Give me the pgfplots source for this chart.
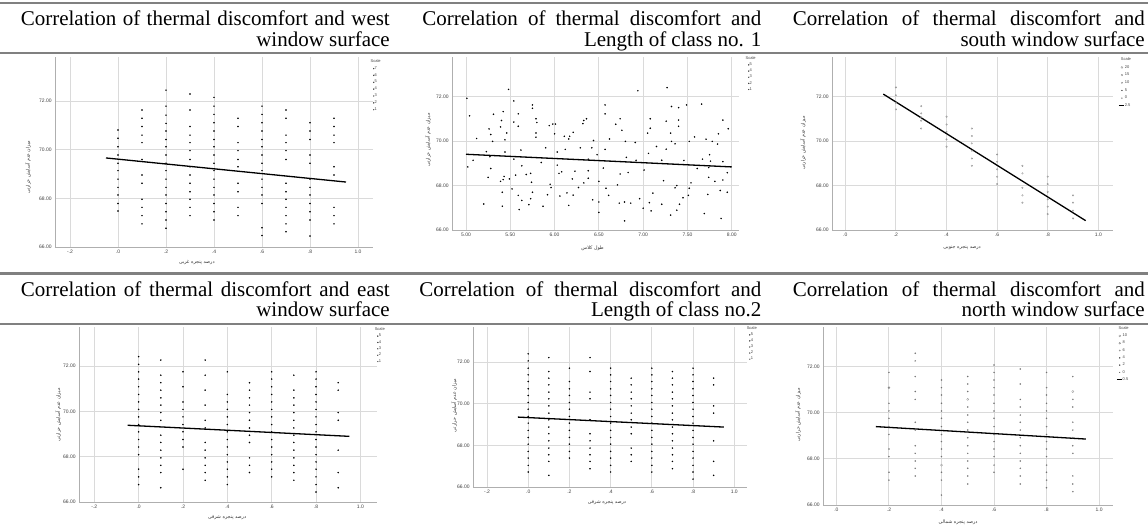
\documentclass[border=0pt]{standalone}
\usepackage{fontspec}
\setmainfont{Liberation Serif}
\newfontfamily\sans{Liberation Sans}
\newfontfamily\arabicfont[Script=Arabic]{DejaVu Sans}
\TeXXeTstate=1
\usepackage{pgfplots}
\pgfplotsset{compat=1.18}

\definecolor{rulec}{RGB}{128,128,128}
\definecolor{gridc}{RGB}{218,218,218}
\definecolor{axisc}{RGB}{175,175,175}

\newcommand{\ttl}{\fontsize{21}{21}\selectfont}

\pgfplotsset{
  spss/.style={
    scale only axis, axis lines=left, anchor=south west,
    axis line style={draw=axisc, line width=0.9pt, -},
    grid=major, major grid style={draw=gridc, line width=0.9pt},
    tick style={draw=none},
    ticklabel style={font=\sans\fontsize{5}{5}\selectfont, text=black!75, inner sep=1pt},
    ymin=66, ytick={66,68,70,72}, yticklabels={66.00,68.00,70.00,72.00},
    label style={font=\fontsize{4.8}{5}\selectfont, text=black!80, anchor=center},
    ylabel={\arabicfont\beginR میزان عدم آسایش حرارتی\endR},
    legend style={draw=none, fill=none, anchor=north west,
      font=\sans\fontsize{4}{4}\selectfont, text=black!75,
      inner sep=0pt, nodes={inner sep=0.3pt}},
    legend cell align=left,
  },
  frac/.style={xtick={-0.2,0,0.2,0.4,0.6,0.8,1.0}, xticklabels={-.2,.0,.2,.4,.6,.8,1.0}},
  dotimg/.style={legend image code/.code={\fill[black!75] (1.5pt,0) circle (#1);}},
  ringimg/.style={legend image code/.code={\draw[black!50, line width=0.3pt] (1.5pt,0) circle (#1);}},
  lineimg/.style={legend image code/.code={\draw[black, line width=1.3pt] (-1.5pt,0) -- (3.5pt,0);}},
  dots/.style={only marks, mark=*, mark size=0.55pt, mark options={draw=none, fill=black!80}, forget plot},
  rings/.style={only marks, mark=o, mark size=0.8pt, mark options={draw=black!45, line width=0.3pt}, forget plot},
  fit/.style={black, line width=1.3pt, no marks, forget plot},
}

\begin{document}
\begin{tikzpicture}
\useasboundingbox (0,0) rectangle (1148pt,528pt);

% west
\begin{axis}[spss, frac, at={(55pt,281pt)}, width=318pt, height=190pt,
  xmin=-0.2625, xmax=1.0625, ymax=73.81,
  xlabel={\arabicfont\beginR درصد پنجره غربی\endR},
  xlabel style={at={(axis description cs:0.446,-0.084)}},
  ylabel style={at={(axis description cs:-0.085,0.42)}},
  legend style={at={(axis description cs:0.997,0.99)}, row sep=2pt}]
\addplot[dots] coordinates {
(0,70.81)(0,70.47)(0,70.12)(0,69.78)(0,69.44)(0,69.14)(0,68.79)(0,68.45)(0,68.14)(0,67.79)(0,67.48)
(0.1,71.63)(0.1,71.29)(0.1,70.95)(0.1,70.60)(0.1,70.29)(0.1,69.60)(0.1,68.96)(0.1,68.62)(0.1,67.96)(0.1,67.63)(0.1,67.29)(0.1,66.95)
(0.2,72.45)(0.2,71.79)(0.2,71.42)(0.2,71.08)(0.2,70.77)(0.2,70.42)(0.2,70.12)(0.2,69.78)(0.2,69.44)(0.2,69.14)(0.2,68.79)(0.2,68.45)(0.2,68.14)(0.2,67.79)(0.2,67.45)(0.2,67.11)(0.2,66.77)
(0.3,72.29)(0.3,71.63)(0.3,70.95)(0.3,70.60)(0.3,70.29)(0.3,69.96)(0.3,69.60)(0.3,69.30)(0.3,68.96)(0.3,68.62)(0.3,68.27)(0.3,67.96)(0.3,67.63)(0.3,67.29)
(0.4,72.15)(0.4,71.79)(0.4,71.45)(0.4,71.11)(0.4,70.77)(0.4,70.42)(0.4,70.12)(0.4,69.78)(0.4,69.44)(0.4,69.14)(0.4,68.79)(0.4,68.45)(0.4,68.14)(0.4,67.79)(0.4,67.45)(0.4,67.11)
(0.5,71.29)(0.5,70.95)(0.5,70.29)(0.5,69.96)(0.5,69.60)(0.5,69.30)(0.5,68.62)(0.5,68.27)(0.5,67.63)(0.5,67.29)
(0.6,71.79)(0.6,71.45)(0.6,71.11)(0.6,70.77)(0.6,70.42)(0.6,70.12)(0.6,69.78)(0.6,69.44)(0.6,69.14)(0.6,68.79)(0.6,68.45)(0.6,68.14)(0.6,67.79)(0.6,66.79)(0.6,66.47)
(0.7,71.63)(0.7,71.29)(0.7,70.60)(0.7,70.29)(0.7,69.96)(0.7,69.60)(0.7,68.62)(0.7,68.27)(0.7,67.96)(0.7,67.63)(0.7,67.29)(0.7,66.95)(0.7,66.63)
(0.8,71.11)(0.8,70.77)(0.8,70.42)(0.8,69.78)(0.8,69.44)(0.8,68.79)(0.8,68.45)(0.8,68.14)(0.8,67.79)(0.8,67.45)(0.8,67.11)(0.8,66.45)
(0.9,71.29)(0.9,70.95)(0.9,70.60)(0.9,70.29)(0.9,69.30)(0.9,68.96)(0.9,67.63)(0.9,67.29)(0.9,66.95)};
\addplot[fit] coordinates {(-0.05,69.66)(0.95,68.67)};
\addlegendimage{empty legend}\addlegendentry{\hspace*{-4pt}Scale}
\addlegendimage{dotimg=0.45pt}\addlegendentry{7}
\addlegendimage{dotimg=0.45pt}\addlegendentry{6}
\addlegendimage{dotimg=0.45pt}\addlegendentry{5}
\addlegendimage{dotimg=0.45pt}\addlegendentry{4}
\addlegendimage{dotimg=0.4pt}\addlegendentry{3}
\addlegendimage{dotimg=0.4pt}\addlegendentry{2}
\addlegendimage{dotimg=0.35pt}\addlegendentry{1}
\end{axis}

% length of class no. 1
\begin{axis}[spss, at={(452pt,298pt)}, width=287pt, height=173pt,
  xmin=4.842, xmax=8.082, ymax=73.79,
  xtick={5,5.5,6,6.5,7,7.5,8}, xticklabels={5.00,5.50,6.00,6.50,7.00,7.50,8.00},
  xlabel={\arabicfont\beginR طول کلاس\endR},
  xlabel style={at={(axis description cs:0.49,-0.104)}},
  ylabel style={at={(axis description cs:-0.084,0.52)}},
  legend style={at={(axis description cs:1.028,1.006)}, row sep=1.3pt}]
\addplot[dots] coordinates {
(5.01,71.93)(5.48,72.33)(5.54,71.81)(5.04,71.14)(5.31,71.21)(5.42,71.33)(5.40,70.93)(5.59,71.23)(5.75,71.63)(5.75,71.48)
(5.26,70.55)(5.28,70.30)(5.39,70.64)(5.46,70.37)(5.54,70.86)(5.59,70.67)(5.79,71.01)(5.80,70.84)(5.12,70.12)(5.30,69.99)
(5.44,70.06)(5.79,70.37)(5.79,70.18)(5.94,70.70)(5.98,70.77)(6.01,70.77)(6.00,70.33)(6.11,70.22)(6.17,70.22)(6.16,70.10)
(6.21,70.40)(6.32,70.79)(6.33,70.93)(6.36,71.01)(6.44,70.03)(5.23,69.53)(5.27,69.30)(5.44,69.51)(5.62,69.60)(5.08,69.14)
(5.02,68.84)(5.54,69.19)(5.90,69.70)(6.03,69.51)(6.12,69.63)(6.29,69.70)(6.42,69.70)(6.38,69.19)(5.85,69.04)(5.63,68.89)
(6.03,68.92)(5.28,68.77)(5.25,68.37)(5.43,68.41)(5.42,68.27)(5.49,68.30)(5.39,68.19)(5.56,68.47)(5.68,68.50)(5.73,68.55)
(5.74,68.15)(6.08,68.62)(6.05,68.55)(6.23,68.65)(6.38,68.67)(6.20,68.30)(6.38,68.33)(6.33,68.12)(6.27,67.91)(5.95,68.06)
(5.96,67.91)(5.52,67.85)(5.41,67.70)(5.75,67.70)(5.59,67.56)(5.63,67.33)(5.73,67.41)(5.92,67.59)(6.06,67.53)(6.14,67.67)
(6.21,67.57)(6.43,67.36)(5.20,67.17)(5.41,67.07)(5.60,66.92)(5.71,67.14)(5.87,67.07)(6.16,67.11)
(6.94,72.27)(7.27,72.41)(6.57,71.63)(6.57,71.23)(7.32,71.56)(7.40,71.51)(7.49,71.63)(7.66,71.67)(6.74,71.01)(6.69,70.76)
(6.76,70.49)(7.08,71.01)(7.08,70.58)(7.26,70.90)(7.40,70.95)(7.40,70.67)(7.05,70.36)(7.31,70.36)(7.58,70.19)(7.85,70.33)
(7.90,70.95)(7.96,70.56)(6.62,70.10)(6.80,69.99)(6.91,69.94)(7.32,69.99)(7.36,69.88)(7.52,69.99)(7.71,70.09)(7.78,69.99)
(7.84,69.87)(7.15,69.76)(7.26,69.64)(6.57,69.63)(7.06,69.45)(6.48,69.39)(6.81,69.27)(6.92,69.14)(7.21,69.14)(7.46,69.13)
(7.67,69.19)(7.75,69.39)(7.76,69.10)(7.90,69.08)(6.55,68.79)(6.74,68.52)(6.83,68.59)(7.01,68.70)(7.61,68.77)(7.74,68.81)
(7.74,68.37)(7.95,68.58)(7.90,68.25)(7.81,68.19)(7.23,68.22)(6.50,68.19)(6.71,68.03)(6.58,67.88)(7.38,68.00)(7.36,67.90)
(7.54,68.12)(7.52,67.88)(6.61,67.56)(7.11,67.66)(6.96,67.41)(7.45,67.45)(7.51,67.56)(7.73,67.60)(7.87,67.78)(7.95,67.70)
(6.50,67.26)(6.73,67.21)(6.79,67.26)(6.86,67.21)(7.07,67.23)(7.21,67.16)(7.41,67.16)(7.38,66.89)(7.09,66.86)(7.00,66.98)
(6.50,66.79)(7.31,66.67)(7.69,66.74)(7.88,66.52)(6.79,66.41)};
\addplot[fit] coordinates {(5.0,69.41)(8.0,68.84)};
\addlegendimage{empty legend}\addlegendentry{\hspace*{-4pt}Scale}
\addlegendimage{dotimg=0.45pt}\addlegendentry{5}
\addlegendimage{dotimg=0.45pt}\addlegendentry{4}
\addlegendimage{dotimg=0.4pt}\addlegendentry{3}
\addlegendimage{dotimg=0.4pt}\addlegendentry{2}
\addlegendimage{dotimg=0.35pt}\addlegendentry{1}
\end{axis}

% south
\begin{axis}[spss, at={(832pt,298pt)}, width=281pt, height=173pt,
  xmin=-0.0526, xmax=1.058, ymax=73.79,
  xtick={0,0.2,0.4,0.6,0.8,1.0}, xticklabels={.0,.2,.4,.6,.8,1.0},
  xlabel={\arabicfont\beginR درصد پنجره جنوبی\endR},
  xlabel style={at={(axis description cs:0.463,-0.104)}},
  ylabel style={at={(axis description cs:-0.103,0.503)}},
  legend style={at={(axis description cs:1.018,1.0)}, row sep=2.8pt}]
\addplot[rings] coordinates {
(0.2,72.42)(0.2,72.07)(0.2,71.73)(0.2,71.43)
(0.3,71.58)(0.3,71.25)(0.3,71.07)(0.3,70.92)(0.3,70.57)
(0.4,71.10)(0.4,70.75)(0.4,70.42)(0.4,70.08)(0.4,69.75)
(0.5,70.57)(0.5,70.23)(0.5,69.90)(0.5,69.57)(0.5,69.22)(0.5,68.89)
(0.6,69.40)(0.6,69.07)(0.6,68.73)(0.6,68.40)(0.6,68.07)
(0.7,68.89)(0.7,68.55)(0.7,67.90)(0.7,67.56)(0.7,67.23)
(0.8,68.40)(0.8,68.07)(0.8,67.72)(0.8,67.38)(0.8,67.05)(0.8,66.72)
(0.9,67.56)(0.9,67.23)(0.9,66.87)(0.9,66.52)};
\addplot[fit] coordinates {(0.15,72.12)(0.95,66.42)};
\addlegendimage{empty legend}\addlegendentry{\hspace*{-4pt}Scale}
\addlegendimage{ringimg=1pt}\addlegendentry{20}
\addlegendimage{ringimg=0.85pt}\addlegendentry{15}
\addlegendimage{ringimg=0.7pt}\addlegendentry{10}
\addlegendimage{dotimg=0.4pt}\addlegendentry{5}
\addlegendimage{dotimg=0.3pt}\addlegendentry{0}
\addlegendimage{lineimg}\addlegendentry{2.5}
\end{axis}

% east
\begin{axis}[spss, frac, at={(79pt,26pt)}, width=298pt, height=175pt,
  xmin=-0.269, xmax=1.075, ymax=73.73,
  xlabel={\arabicfont\beginR درصد پنجره شرقی\endR},
  xlabel style={at={(axis description cs:0.497,-0.091)}},
  ylabel style={at={(axis description cs:-0.07,0.497)}},
  legend style={at={(axis description cs:0.997,1.0)}, row sep=1.5pt}]
\addplot[dots] coordinates {
(0,72.42)(0,72.08)(0,71.75)(0,71.43)(0,71.09)(0,70.75)(0,70.42)(0,70.09)(0,69.76)(0,69.42)(0,69.10)(0,68.76)(0,68.43)(0,68.09)(0,67.45)(0,67.11)(0,66.77)
(0.1,72.27)(0.1,71.60)(0.1,71.27)(0.1,70.94)(0.1,70.60)(0.1,70.28)(0.1,69.95)(0.1,69.61)(0.1,68.95)(0.1,68.63)(0.1,68.29)(0.1,67.95)(0.1,67.62)(0.1,67.30)(0.1,66.63)
(0.2,71.75)(0.2,71.09)(0.2,70.42)(0.2,70.09)(0.2,69.76)(0.2,69.42)(0.2,69.10)(0.2,68.76)(0.2,68.43)(0.2,67.45)
(0.3,72.27)(0.3,71.60)(0.3,70.94)(0.3,70.28)(0.3,69.61)(0.3,69.27)(0.3,68.63)(0.3,68.29)(0.3,67.95)(0.3,67.62)(0.3,67.30)(0.3,66.96)
(0.4,71.75)(0.4,70.75)(0.4,70.42)(0.4,70.09)(0.4,69.76)(0.4,69.42)(0.4,69.10)(0.4,68.76)(0.4,68.43)(0.4,68.09)(0.4,67.77)(0.4,67.45)(0.4,67.11)(0.4,66.77)
(0.5,71.27)(0.5,70.94)(0.5,70.60)(0.5,70.28)(0.5,69.95)(0.5,69.61)(0.5,69.27)(0.5,68.95)(0.5,68.63)(0.5,67.95)(0.5,67.62)(0.5,67.30)
(0.6,71.75)(0.6,71.43)(0.6,71.09)(0.6,70.75)(0.6,70.42)(0.6,70.09)(0.6,69.76)(0.6,69.42)(0.6,69.10)(0.6,68.76)(0.6,68.43)(0.6,68.09)(0.6,67.77)(0.6,67.45)(0.6,67.11)
(0.7,71.60)(0.7,70.94)(0.7,70.60)(0.7,70.28)(0.7,69.95)(0.7,69.61)(0.7,69.27)(0.7,68.95)(0.7,68.63)(0.7,68.29)(0.7,67.95)(0.7,67.62)(0.7,67.30)(0.7,66.96)
(0.8,71.75)(0.8,71.43)(0.8,71.09)(0.8,70.75)(0.8,70.42)(0.8,70.09)(0.8,69.76)(0.8,69.42)(0.8,69.10)(0.8,68.76)(0.8,68.43)(0.8,68.09)(0.8,67.77)(0.8,67.45)(0.8,67.11)(0.8,66.77)(0.8,66.44)
(0.9,71.27)(0.9,70.94)(0.9,69.95)(0.9,69.61)(0.9,68.29)(0.9,67.30)(0.9,66.63)};
\addplot[fit] coordinates {(-0.05,69.39)(0.95,68.90)};
\addlegendimage{empty legend}\addlegendentry{\hspace*{-4pt}Scale}
\addlegendimage{dotimg=0.45pt}\addlegendentry{5}
\addlegendimage{dotimg=0.45pt}\addlegendentry{4}
\addlegendimage{dotimg=0.4pt}\addlegendentry{3}
\addlegendimage{dotimg=0.4pt}\addlegendentry{2}
\addlegendimage{dotimg=0.35pt}\addlegendentry{1}
\end{axis}

% length of class no. 2
\begin{axis}[spss, frac, at={(473pt,41pt)}, width=274pt, height=160pt,
  xmin=-0.268, xmax=1.062, ymax=73.69,
  xlabel={\arabicfont\beginR درصد پنجره شرقی\endR},
  xlabel style={at={(axis description cs:0.489,-0.1)}},
  ylabel style={at={(axis description cs:-0.069,0.51)}},
  legend style={at={(axis description cs:1.004,1.006)}, row sep=1.2pt}]
\addplot[dots, mark options={draw=none, fill=black!70}] coordinates {
(0,72.40)(0,72.06)(0,71.71)(0,71.39)(0,71.07)(0,70.72)(0,70.40)(0,70.06)(0,69.74)(0,69.39)(0,69.07)(0,68.72)(0,68.38)(0,68.06)(0,67.71)(0,67.39)(0,67.04)(0,66.72)
(0.1,72.22)(0.1,71.55)(0.1,71.23)(0.1,70.91)(0.1,70.56)(0.1,70.24)(0.1,69.90)(0.1,69.55)(0.1,69.23)(0.1,68.88)(0.1,68.56)(0.1,68.22)(0.1,67.87)(0.1,67.55)(0.1,67.23)(0.1,66.56)
(0.2,71.71)(0.2,71.07)(0.2,70.72)(0.2,70.40)(0.2,70.06)(0.2,69.74)(0.2,69.39)(0.2,69.07)(0.2,68.72)(0.2,68.38)(0.2,68.06)(0.2,67.71)(0.2,67.39)
(0.3,72.22)(0.3,71.55)(0.3,70.56)(0.3,70.24)(0.3,69.23)(0.3,68.56)(0.3,68.22)(0.3,67.87)(0.3,67.55)(0.3,67.23)(0.3,66.88)
(0.4,71.71)(0.4,71.39)(0.4,71.07)(0.4,70.72)(0.4,70.40)(0.4,70.06)(0.4,69.74)(0.4,69.39)(0.4,69.07)(0.4,68.72)(0.4,68.38)(0.4,68.06)(0.4,67.71)(0.4,67.39)(0.4,67.04)(0.4,66.72)
(0.5,71.23)(0.5,70.91)(0.5,70.56)(0.5,70.24)(0.5,69.90)(0.5,69.55)(0.5,69.23)(0.5,68.88)(0.5,68.56)(0.5,67.87)(0.5,67.55)(0.5,67.23)
(0.6,71.71)(0.6,71.39)(0.6,71.07)(0.6,70.72)(0.6,70.40)(0.6,70.06)(0.6,69.74)(0.6,69.39)(0.6,69.07)(0.6,68.72)(0.6,68.38)(0.6,68.06)(0.6,67.71)(0.6,67.39)(0.6,67.04)(0.6,66.72)
(0.7,71.55)(0.7,71.23)(0.7,70.91)(0.7,70.56)(0.7,70.24)(0.7,69.90)(0.7,69.55)(0.7,69.23)(0.7,68.88)(0.7,68.56)(0.7,68.22)(0.7,67.87)(0.7,67.55)(0.7,67.23)(0.7,66.88)
(0.8,71.71)(0.8,71.39)(0.8,71.07)(0.8,70.72)(0.8,70.40)(0.8,70.06)(0.8,69.74)(0.8,69.39)(0.8,69.07)(0.8,68.72)(0.8,68.38)(0.8,68.06)(0.8,67.71)(0.8,67.39)(0.8,67.04)(0.8,66.72)(0.8,66.38)
(0.9,71.23)(0.9,70.91)(0.9,69.90)(0.9,69.55)(0.9,68.22)(0.9,67.23)(0.9,66.56)};
\addplot[fit] coordinates {(-0.05,69.36)(0.95,68.88)};
\addlegendimage{empty legend}\addlegendentry{\hspace*{-4pt}Scale}
\addlegendimage{dotimg=0.45pt}\addlegendentry{5}
\addlegendimage{dotimg=0.45pt}\addlegendentry{4}
\addlegendimage{dotimg=0.4pt}\addlegendentry{3}
\addlegendimage{dotimg=0.4pt}\addlegendentry{2}
\addlegendimage{dotimg=0.35pt}\addlegendentry{1}
\end{axis}

% north
\begin{axis}[spss, at={(823pt,23pt)}, width=290pt, height=178pt,
  xmin=-0.051, xmax=1.053, ymax=73.72,
  xtick={0,0.2,0.4,0.6,0.8,1.0}, xticklabels={.0,.2,.4,.6,.8,1.0},
  xlabel={\arabicfont\beginR درصد پنجره شمالی\endR},
  xlabel style={at={(axis description cs:0.466,-0.096)}},
  ylabel style={at={(axis description cs:-0.086,0.506)}},
  legend style={at={(axis description cs:1.01,1.006)}, row sep=2.4pt}]
\addplot[rings, mark size=0.6pt, mark options={draw=black!55, line width=0.35pt}] coordinates {
(0.2,71.75)(0.2,71.09)(0.2,70.41)(0.2,70.08)(0.2,69.76)(0.2,69.40)(0.2,69.06)(0.2,68.43)(0.2,68.10)(0.2,67.42)(0.2,67.08)
(0.3,72.58)(0.3,72.25)(0.3,71.57)(0.3,70.92)(0.3,70.58)(0.3,69.59)(0.3,69.25)(0.3,68.57)(0.3,68.24)(0.3,67.91)(0.3,67.59)(0.3,67.26)
(0.4,71.42)(0.4,71.09)(0.4,70.77)(0.4,70.41)(0.4,70.08)(0.4,69.76)(0.4,69.40)(0.4,69.06)(0.4,68.75)(0.4,68.43)(0.4,68.10)(0.4,67.42)(0.4,67.08)(0.4,66.43)
(0.5,71.57)(0.5,71.25)(0.5,70.92)(0.5,70.25)(0.5,69.90)(0.5,69.59)(0.5,69.25)(0.5,68.92)(0.5,68.57)(0.5,68.24)(0.5,67.91)(0.5,67.59)(0.5,67.26)(0.5,66.91)
(0.6,72.07)(0.6,71.75)(0.6,71.42)(0.6,71.09)(0.6,70.77)(0.6,70.41)(0.6,70.08)(0.6,69.76)(0.6,69.40)(0.6,69.06)(0.6,68.75)(0.6,68.43)(0.6,68.10)(0.6,67.73)(0.6,67.42)
(0.7,71.90)(0.7,71.25)(0.7,70.58)(0.7,70.25)(0.7,69.90)(0.7,69.59)(0.7,69.25)(0.7,68.92)(0.7,68.57)(0.7,68.24)(0.7,67.91)(0.7,67.59)(0.7,67.26)(0.7,66.91)
(0.8,71.75)(0.8,71.09)(0.8,70.77)(0.8,70.41)(0.8,70.08)(0.8,69.76)(0.8,69.40)(0.8,69.06)(0.8,68.75)(0.8,68.43)(0.8,68.10)(0.8,67.73)(0.8,67.42)(0.8,67.08)(0.8,66.75)
(0.9,71.57)(0.9,70.58)(0.9,70.25)(0.9,69.59)(0.9,69.25)(0.9,68.92)(0.9,68.57)(0.9,68.24)(0.9,67.26)(0.9,66.91)(0.9,66.58)};
\addplot[rings, mark size=1.1pt] coordinates {(0.4,67.73)(0.5,70.58)(0.2,71.09)(0.9,70.92)};
\addplot[fit] coordinates {(0.15,69.40)(0.95,68.86)};
\addlegendimage{empty legend}\addlegendentry{\hspace*{-4pt}Scale}
\addlegendimage{ringimg=1pt}\addlegendentry{10}
\addlegendimage{ringimg=0.85pt}\addlegendentry{8}
\addlegendimage{ringimg=0.7pt}\addlegendentry{6}
\addlegendimage{dotimg=0.45pt}\addlegendentry{4}
\addlegendimage{dotimg=0.4pt}\addlegendentry{2}
\addlegendimage{dotimg=0.3pt}\addlegendentry{0}
\addlegendimage{lineimg}\addlegendentry{0.5}
\end{axis}

% table rules
\draw[rulec, line width=2pt] (0,524.5pt) -- (1148pt,524.5pt);
\draw[rulec, line width=2.5pt] (0,475pt) -- (1148pt,475pt);
\draw[rulec, line width=2.5pt] (0,254.3pt) -- (1148pt,254.3pt);
\draw[rulec, line width=2.5pt] (0,204pt) -- (1148pt,204pt);

% titles
\begin{scope}[every node/.style={anchor=base east, inner sep=0pt, font=\ttl}]
\node at (390pt,502pt) {\makebox[369pt][s]{Correlation of thermal discomfort and west}};
\node at (390pt,481.3pt) {window surface};
\node at (761.5pt,502pt) {\makebox[339pt][s]{Correlation of thermal discomfort and}};
\node at (761.5pt,481.3pt) {Length of class no. 1};
\node at (1145pt,502pt) {\makebox[352pt][s]{Correlation of thermal discomfort and}};
\node at (1145pt,481.3pt) {south window surface};
\node at (390pt,231.3pt) {\makebox[369pt][s]{Correlation of thermal discomfort and east}};
\node at (390pt,211.3pt) {window surface};
\node at (761.5pt,231.3pt) {\makebox[342pt][s]{Correlation of thermal discomfort and}};
\node at (761.5pt,211.3pt) {Length of class no.2};
\node at (1145pt,231.3pt) {\makebox[352pt][s]{Correlation of thermal discomfort and}};
\node at (1145pt,211.3pt) {north window surface};
\end{scope}
\end{tikzpicture}
\end{document}
